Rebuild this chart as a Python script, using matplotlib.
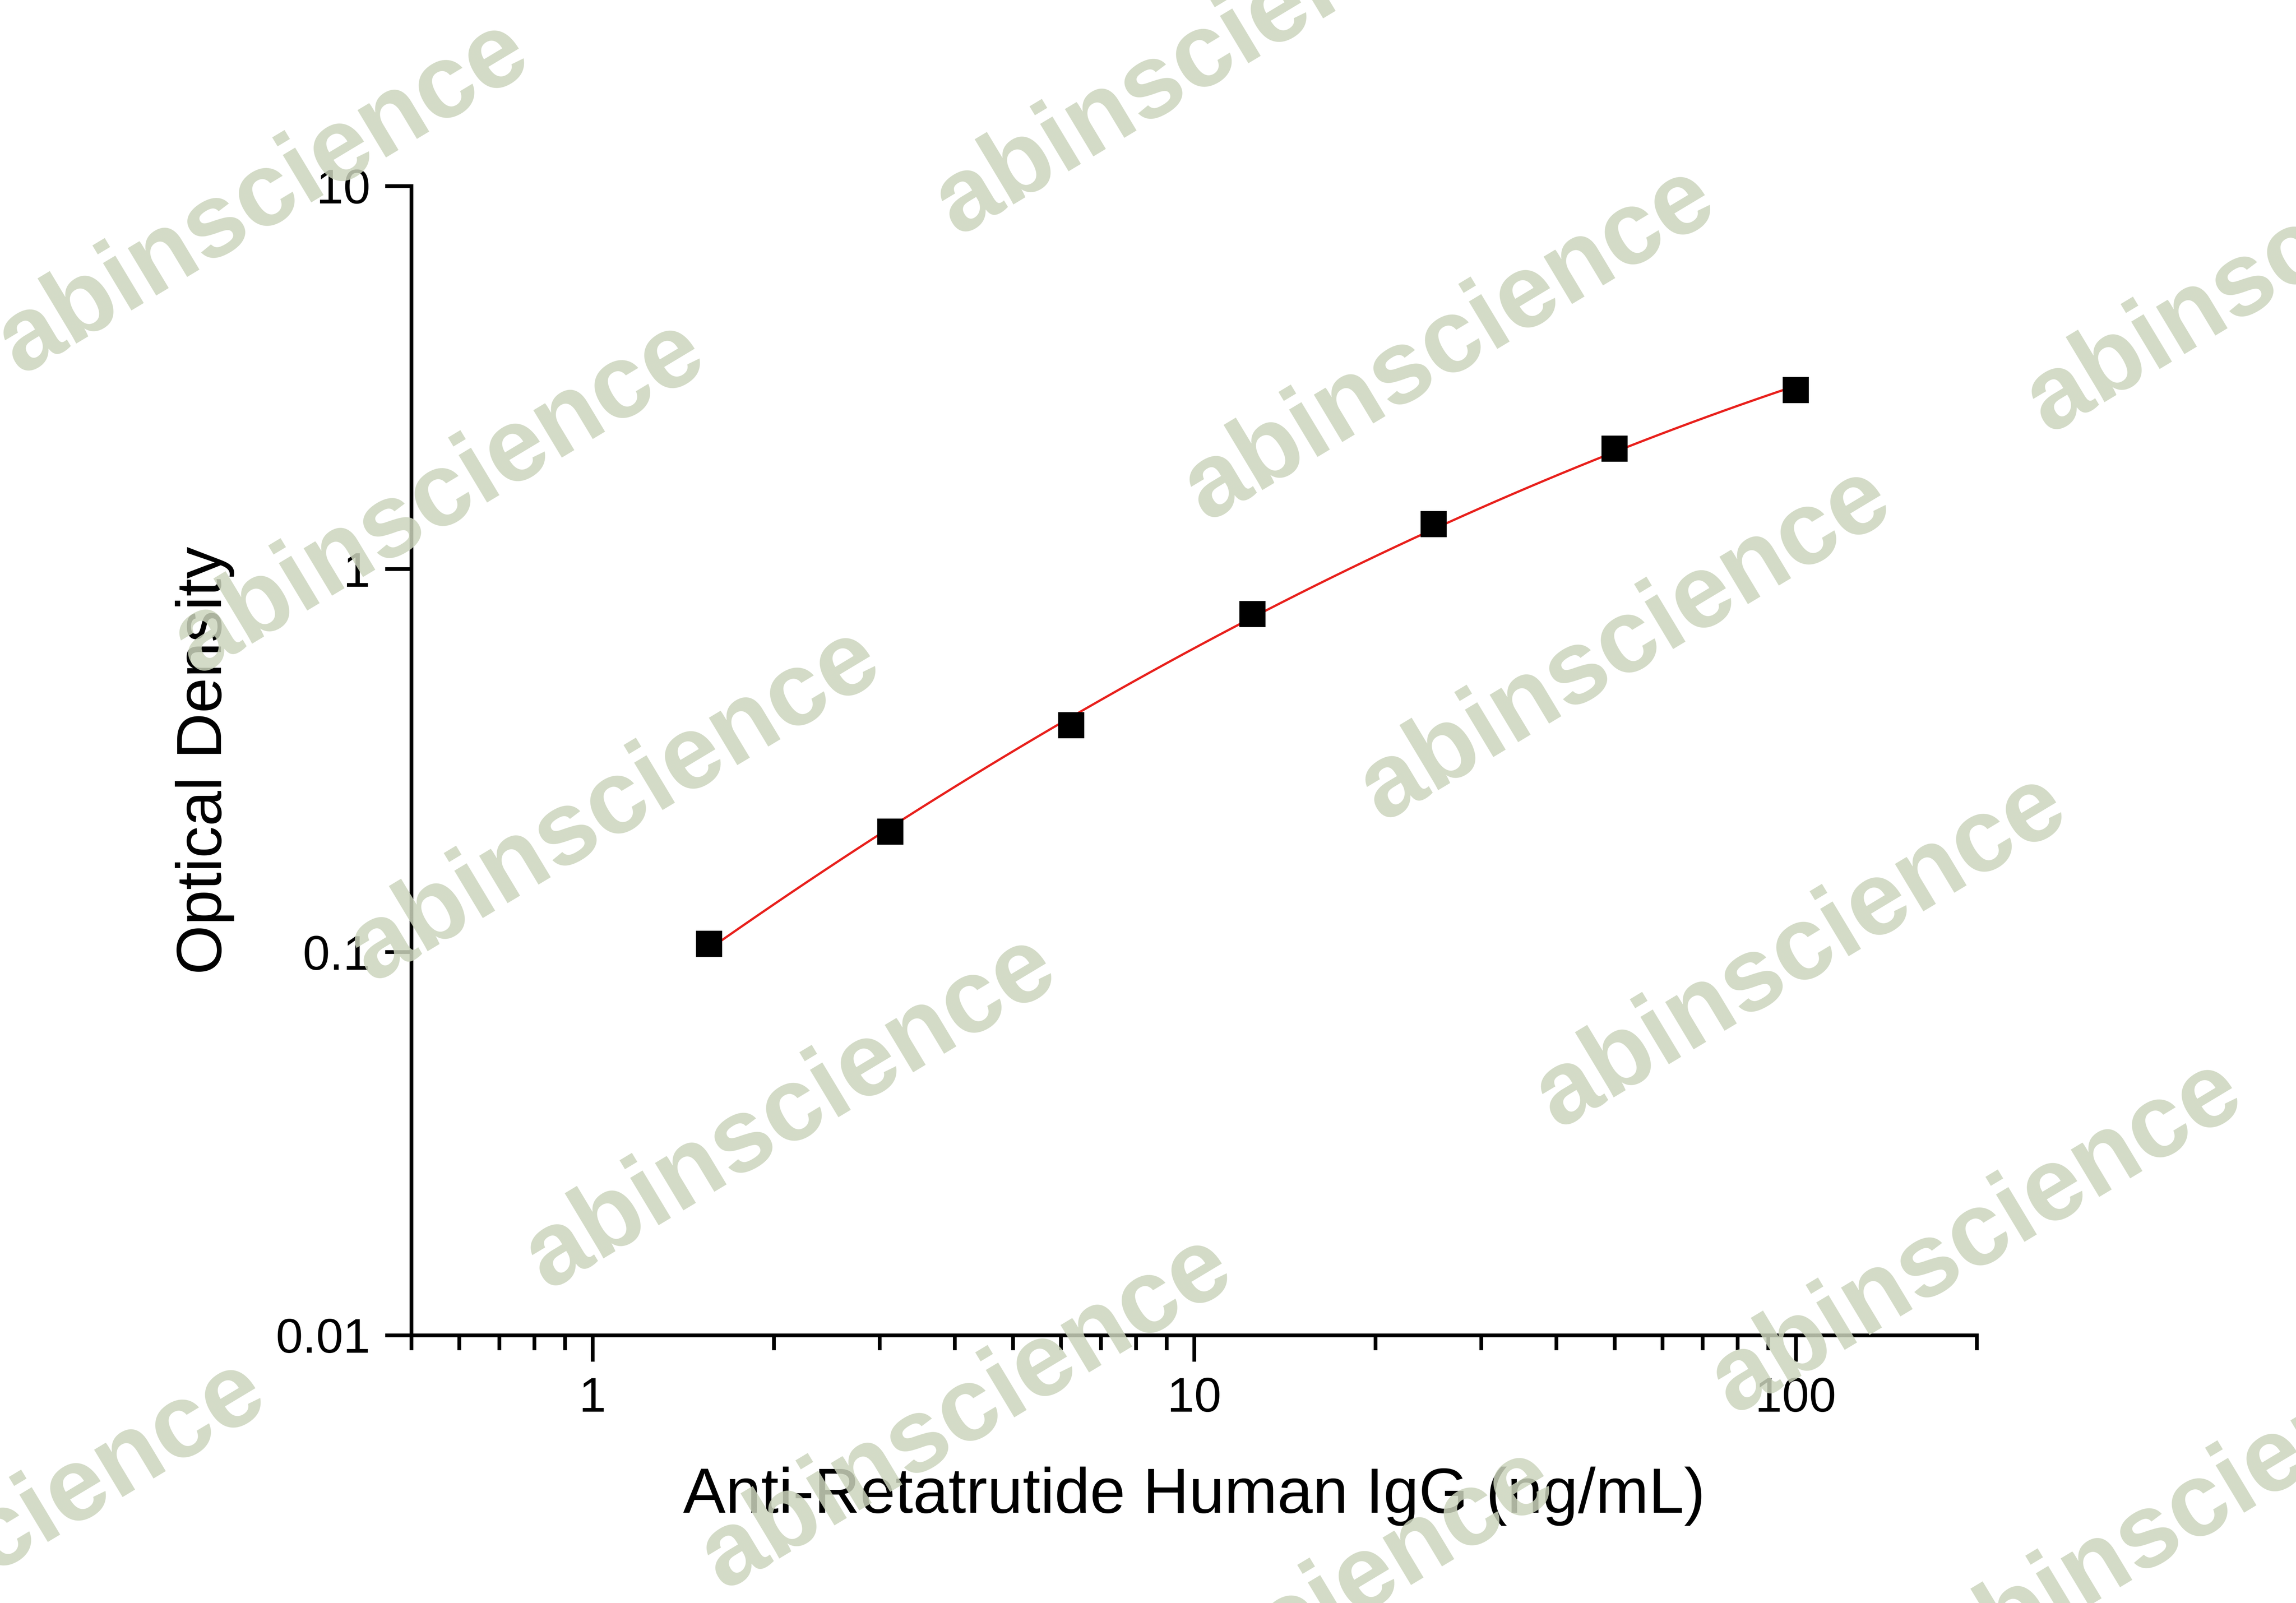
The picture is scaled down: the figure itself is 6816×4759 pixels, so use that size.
import matplotlib
matplotlib.use("Agg")
import matplotlib.pyplot as plt
import matplotlib.ticker as mticker
import numpy as np

# data
conc = [1.5625, 3.125, 6.25, 12.5, 25, 50, 100]
od = [0.105, 0.206, 0.391, 0.763, 1.31, 2.06, 2.93]

plt.rcParams['font.family'] = ['Liberation Sans', 'DejaVu Sans']

W, H = 1568, 1095  # reference pixel frame used for layout
fig = plt.figure(figsize=(17.04, 11.8975), dpi=400)
ax = fig.add_axes([281 / W, 1 - 912 / H, (1350 - 281) / W, (912 - 127) / H])

# smooth fit in log-log space
lx, ly = np.log10(conc), np.log10(od)
coef = np.polyfit(lx, ly, 2)
xs = np.linspace(lx[0], lx[-1], 200)
ax.plot(10 ** xs, 10 ** np.polyval(coef, xs), color='#e8201c', lw=1.2, zorder=2)
ax.plot(conc, od, 's', color='black', ms=13, zorder=3)

ax.set_xscale('log')
ax.set_yscale('log')
ax.set_xlim(0.5, 200)
ax.set_ylim(0.01, 10)
ax.set_xticks([1, 10, 100])
ax.set_xticklabels(['1', '10', '100'])
ax.set_yticks([0.01, 0.1, 1, 10])
ax.set_yticklabels(['0.01', '0.1', '1', '10'])
ax.xaxis.set_minor_locator(mticker.LogLocator(subs=np.arange(2, 10)))
ax.xaxis.set_minor_formatter(mticker.NullFormatter())
ax.yaxis.set_minor_locator(mticker.NullLocator())
ax.spines['top'].set_visible(False)
ax.spines['right'].set_visible(False)
for s in ('left', 'bottom'):
    ax.spines[s].set_linewidth(2)
ax.tick_params(which='major', direction='out', length=14, width=2, labelsize=26, pad=8)
ax.tick_params(which='minor', direction='out', length=8, width=2)
ax.set_xlabel('Anti-Retatrutide Human IgG (ng/mL)', fontsize=34, labelpad=24)
ax.set_ylabel('Optical Density', fontsize=34, labelpad=22)

# watermarks (centres in reference pixels)
marks = [(180, 135), (300, 340), (420, 550), (540, 760), (660, 965), (820, 40),
         (990, 235), (1110, 440), (1230, 650), (1350, 845), (1500, 1030),
         (0, 1050), (1565, 175), (880, 1110)]
for mx, my in marks:
    fig.text(mx / W, 1 - my / H, 'abinscience', rotation=31, fontsize=56,
             fontweight='bold', color='#ccd5bd', alpha=0.85,
             ha='center', va='center', zorder=10)

fig.savefig('out.png', dpi=400)
